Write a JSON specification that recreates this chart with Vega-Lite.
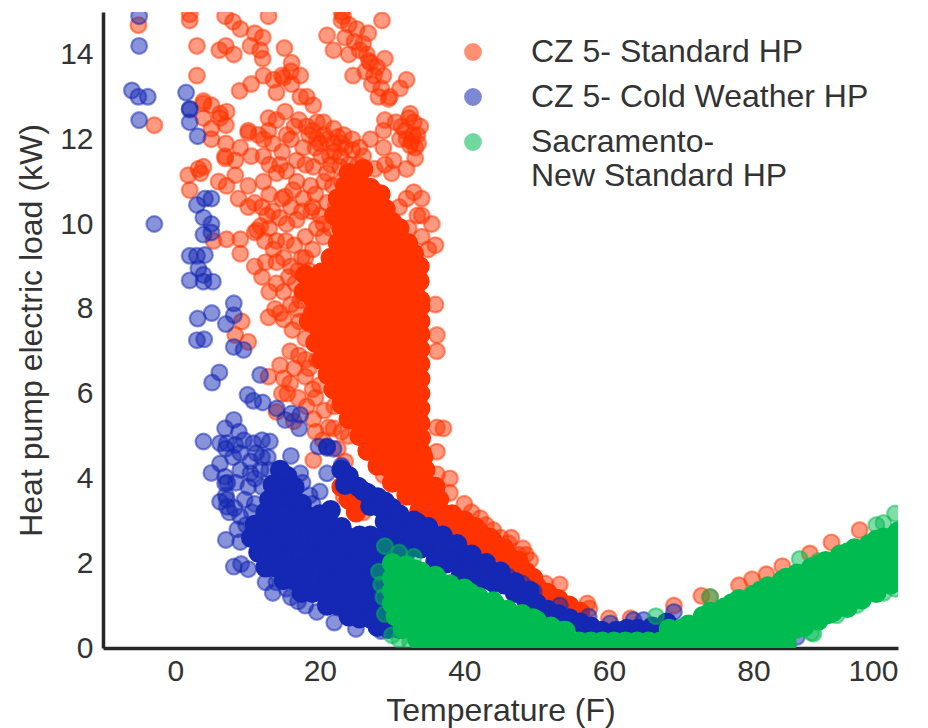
{"$schema":"https://vega.github.io/schema/vega-lite/v6.json","width":795,"height":636,"autosize":"none","padding":{"left":103,"top":12,"right":30,"bottom":80},"background":"white",
"config":{"view":{"stroke":null},"font":"Liberation Sans","axis":{"grid":false,"ticks":false,"domainColor":"#262626","domainWidth":3.5,"labelColor":"#333333","titleColor":"#333333","labelFontSize":30,"titleFontSize":32,"titleFontWeight":"normal","labelFont":"Liberation Sans","titleFont":"Liberation Sans"}},
"datasets":{
"rs":[{"x":-5.1,"y":14.69},{"x":2,"y":14.8},{"x":2,"y":14.95},{"x":6.9,"y":14.9},{"x":8,"y":14.77},{"x":9,"y":14.6},{"x":12.9,"y":14.9},{"x":3,"y":14.2},{"x":6.1,"y":14.1},{"x":7,"y":14.2},{"x":8.1,"y":14},{"x":10.4,"y":14.2},{"x":11,"y":14.5},{"x":12.1,"y":14.4},{"x":11.75,"y":14.1},{"x":12.1,"y":13.9},{"x":15.1,"y":14.15},{"x":3,"y":13.5},{"x":8.9,"y":13.14},{"x":10.5,"y":13.3},{"x":12.2,"y":13.5},{"x":13.6,"y":13.4},{"x":14.75,"y":13.5},{"x":15,"y":13.45},{"x":16.1,"y":13.8},{"x":16,"y":13.6},{"x":17.3,"y":13.5},{"x":14,"y":13.1},{"x":16.1,"y":13.3},{"x":17.3,"y":13},{"x":19.1,"y":12.8},{"x":18.2,"y":13},{"x":-2.9,"y":12.33},{"x":3.9,"y":12.84},{"x":5,"y":12.8},{"x":3.9,"y":12.9},{"x":3.9,"y":12.5},{"x":6.2,"y":12.6},{"x":6.2,"y":12.5},{"x":7.1,"y":12.65},{"x":7,"y":12.33},{"x":5,"y":12.25},{"x":5,"y":12},{"x":7,"y":11.9},{"x":10.1,"y":12.15},{"x":10.1,"y":12.2},{"x":9,"y":11.8},{"x":10.5,"y":11.6},{"x":6.9,"y":11.55},{"x":6.9,"y":11.6},{"x":8.3,"y":11.5},{"x":1.8,"y":11.15},{"x":3.2,"y":11.3},{"x":3.9,"y":11.35},{"x":3.5,"y":11.2},{"x":2,"y":10.8},{"x":6,"y":11},{"x":7.1,"y":10.9},{"x":8.3,"y":11.15},{"x":8.75,"y":10.6},{"x":10.1,"y":10.9},{"x":10.1,"y":10.4},{"x":11,"y":10.5},{"x":12.2,"y":12},{"x":12.9,"y":12.5},{"x":14,"y":12.45},{"x":15.2,"y":12.65},{"x":17.1,"y":12.45},{"x":12.9,"y":12.2},{"x":15.4,"y":12.1},{"x":19.6,"y":12.4},{"x":21.9,"y":12.25},{"x":23.3,"y":12.1},{"x":19.6,"y":12},{"x":21.9,"y":11.9},{"x":20.6,"y":12.1},{"x":18.5,"y":12.1},{"x":17.7,"y":11.8},{"x":12.2,"y":11.6},{"x":14.5,"y":11.4},{"x":14,"y":11.2},{"x":16.8,"y":11.5},{"x":19.1,"y":11.35},{"x":21.4,"y":11.6},{"x":22,"y":11.7},{"x":25.3,"y":11.4},{"x":12.2,"y":11},{"x":14.75,"y":10.6},{"x":15.2,"y":10.65},{"x":16.8,"y":11},{"x":18.7,"y":10.9},{"x":21,"y":11.2},{"x":22.8,"y":11.35},{"x":11.3,"y":9.85},{"x":11.8,"y":9.95},{"x":12.7,"y":10.2},{"x":16.8,"y":10.1},{"x":17.5,"y":10.3},{"x":19.6,"y":9.9},{"x":20,"y":10.2},{"x":18,"y":9.7},{"x":7.1,"y":9.64},{"x":9,"y":9.64},{"x":5.3,"y":9.6},{"x":9,"y":9.3},{"x":11,"y":9.8},{"x":14,"y":9.6},{"x":13,"y":9.9},{"x":15,"y":9.2},{"x":11,"y":9},{"x":12,"y":8.75},{"x":14,"y":9.1},{"x":15.7,"y":8.75},{"x":14,"y":8.6},{"x":17.3,"y":8.2},{"x":16,"y":8.1},{"x":12.9,"y":7.8},{"x":14.5,"y":7.9},{"x":15,"y":7.75},{"x":9.2,"y":7.7},{"x":36,"y":8.1},{"x":21,"y":14.45},{"x":23,"y":14.8},{"x":23,"y":15},{"x":23.2,"y":14.9},{"x":25.1,"y":14.6},{"x":28.6,"y":14.8},{"x":21.9,"y":14.1},{"x":23.5,"y":14.4},{"x":24,"y":14},{"x":26,"y":14.25},{"x":26.5,"y":14},{"x":26.8,"y":13.85},{"x":29,"y":13.9},{"x":26.3,"y":13.6},{"x":27.9,"y":13.7},{"x":27.5,"y":13.5},{"x":28.8,"y":13.5},{"x":32,"y":13.4},{"x":31.1,"y":13.2},{"x":28.1,"y":13},{"x":29.7,"y":13},{"x":29.5,"y":12.95},{"x":29,"y":12.45},{"x":28.8,"y":12.2},{"x":27,"y":12},{"x":28.8,"y":11.8},{"x":32.3,"y":12.5},{"x":33.9,"y":12.3},{"x":33,"y":12.4},{"x":31.3,"y":12.3},{"x":32.9,"y":12.1},{"x":32,"y":12},{"x":31.1,"y":12},{"x":33.2,"y":11.8},{"x":32.5,"y":11.85},{"x":30.2,"y":11.5},{"x":33.2,"y":11.55},{"x":29.95,"y":11.2},{"x":32,"y":11.3},{"x":33,"y":10.75},{"x":34.1,"y":10.6},{"x":34.1,"y":10.2},{"x":32,"y":10.6},{"x":32.3,"y":9.9},{"x":34.1,"y":9.7},{"x":36.2,"y":7.38},{"x":36.2,"y":7},{"x":15.9,"y":7},{"x":17.1,"y":6.9},{"x":12.9,"y":6.4},{"x":14.5,"y":6.67},{"x":15,"y":6.36},{"x":15.9,"y":6.24},{"x":18,"y":6.4},{"x":15.5,"y":6},{"x":14.75,"y":6},{"x":20,"y":6.2},{"x":18.2,"y":5.7},{"x":19.1,"y":5.4},{"x":14,"y":5.57},{"x":19.4,"y":5.1},{"x":21.9,"y":5.18},{"x":19.1,"y":4.43},{"x":37.1,"y":5.18},{"x":36.2,"y":5.2},{"x":36.2,"y":4.63},{"x":36.2,"y":4.1},{"x":38,"y":3.66},{"x":42.2,"y":3.06},{"x":44,"y":2.78},{"x":10.1,"y":7.22},{"x":8.3,"y":7.38},{"x":28.8,"y":4.08},{"x":24.7,"y":3.4},{"x":26,"y":3.2},{"x":23.3,"y":3.57},{"x":46.1,"y":2.47},{"x":48.1,"y":2.35},{"x":49.1,"y":2.07},{"x":51.2,"y":1.52},{"x":53.2,"y":1.5},{"x":57,"y":1.05},{"x":57.3,"y":0.93},{"x":60,"y":0.7},{"x":63,"y":0.7},{"x":69,"y":1},{"x":72.8,"y":1.23},{"x":79.8,"y":1.62},{"x":84,"y":1.93},{"x":87.8,"y":2.23},{"x":90.8,"y":2.49},{"x":94.7,"y":2.78},{"x":78,"y":1.48},{"x":81.8,"y":1.74},{"x":74,"y":1.2},{"x":19.5,"y":7.6},{"x":18,"y":7.3},{"x":36,"y":9.5},{"x":35.5,"y":10},{"x":21,"y":6.5},{"x":22,"y":5.7},{"x":24,"y":5},{"x":11.5,"y":12.1},{"x":13.5,"y":11.9},{"x":14.8,"y":11.7},{"x":16,"y":12},{"x":16.5,"y":12.3},{"x":18.2,"y":12.3},{"x":19,"y":12.2},{"x":20.5,"y":12.4},{"x":21,"y":12},{"x":22.5,"y":12.05},{"x":23.5,"y":11.8},{"x":24.5,"y":11.75},{"x":26,"y":11.6},{"x":19.4,"y":11.8},{"x":20.2,"y":11.6},{"x":22.9,"y":11.6},{"x":24,"y":11.4},{"x":18,"y":11.4},{"x":15.4,"y":11.25},{"x":13,"y":11.4},{"x":16.3,"y":10.8},{"x":17.7,"y":10.6},{"x":19.4,"y":10.7},{"x":20.6,"y":11},{"x":21.8,"y":10.9},{"x":23,"y":11},{"x":13,"y":10.7},{"x":12,"y":10.4},{"x":13.5,"y":10.3},{"x":14.4,"y":10.15},{"x":15.4,"y":10},{"x":16,"y":10.4},{"x":18.8,"y":10.3},{"x":21,"y":10.5},{"x":22.2,"y":10.4},{"x":12.4,"y":9.6},{"x":13.6,"y":9.4},{"x":15.3,"y":9.6},{"x":16.5,"y":9.5},{"x":17.5,"y":9.2},{"x":19,"y":9.4},{"x":20.5,"y":9.7},{"x":21.5,"y":9.9},{"x":12.5,"y":9.1},{"x":16,"y":9},{"x":18.5,"y":8.9},{"x":13,"y":8.4},{"x":15,"y":8.4},{"x":16.6,"y":8.6},{"x":13.8,"y":8},{"x":16.2,"y":7.5},{"x":17.2,"y":7.7},{"x":16.5,"y":6.6},{"x":18,"y":6.8},{"x":19,"y":6.1},{"x":17,"y":5.9},{"x":20.6,"y":5.6},{"x":16.4,"y":5.35},{"x":20.4,"y":4.9},{"x":22.5,"y":4.7},{"x":23.5,"y":4.4},{"x":24.6,"y":13.5},{"x":24.8,"y":14.3},{"x":25.5,"y":14.1},{"x":27,"y":13.8},{"x":27.2,"y":13.3},{"x":28.5,"y":13.2},{"x":26.7,"y":14.5},{"x":24,"y":14.7},{"x":32.5,"y":12.6},{"x":33.5,"y":12.1},{"x":32.7,"y":11.95},{"x":31.8,"y":12.2},{"x":30.5,"y":12.4},{"x":33.6,"y":11.9},{"x":29,"y":11.4},{"x":27.6,"y":11.3},{"x":33.5,"y":10.2},{"x":31,"y":10.4},{"x":35,"y":9.4},{"x":38,"y":4},{"x":40,"y":3.4},{"x":41,"y":3.2},{"x":43,"y":2.9},{"x":45,"y":2.6},{"x":46.5,"y":2.6},{"x":47.5,"y":2.2},{"x":48.5,"y":2.2},{"x":20,"y":11.9},{"x":21.5,"y":11.4},{"x":23,"y":11.9},{"x":24.5,"y":12},{"x":25.5,"y":11.8},{"x":19,"y":10.4},{"x":20.5,"y":10},{"x":18,"y":9.2},{"x":17,"y":8.9},{"x":17.5,"y":8.4},{"x":16.8,"y":8},{"x":18.5,"y":6.6},{"x":19.6,"y":6.8},{"x":19.4,"y":5.9},{"x":21.2,"y":5.2},{"x":23,"y":5.1}],
"rc":[{"x":25.5,"y":11},{"x":27,"y":10.85},{"x":28.4,"y":10.7},{"x":24.5,"y":10.6},{"x":26,"y":10.55},{"x":27.6,"y":10.4},{"x":29.1,"y":10.35},{"x":24,"y":10.25},{"x":25.4,"y":10.2},{"x":26.9,"y":10.1},{"x":28.5,"y":10.05},{"x":30,"y":10.05},{"x":31,"y":9.9},{"x":23,"y":9.9},{"x":24.5,"y":9.85},{"x":26,"y":9.8},{"x":27.6,"y":9.75},{"x":29.1,"y":9.75},{"x":30.6,"y":9.6},{"x":32.2,"y":9.55},{"x":22.5,"y":9.55},{"x":23.9,"y":9.5},{"x":25.3,"y":9.5},{"x":26.9,"y":9.45},{"x":28.4,"y":9.45},{"x":29.9,"y":9.35},{"x":31.4,"y":9.3},{"x":33,"y":9.3},{"x":33.8,"y":9},{"x":21.5,"y":9.2},{"x":23,"y":9.2},{"x":24.6,"y":9.15},{"x":26.1,"y":9.2},{"x":27.6,"y":9.15},{"x":29.2,"y":9.05},{"x":30.7,"y":9},{"x":32.2,"y":9},{"x":33.4,"y":8.95},{"x":20.2,"y":8.85},{"x":21.8,"y":8.9},{"x":23.4,"y":8.85},{"x":24.9,"y":8.85},{"x":26.4,"y":8.85},{"x":27.9,"y":8.8},{"x":29.5,"y":8.75},{"x":31,"y":8.7},{"x":32.5,"y":8.7},{"x":33.8,"y":8.65},{"x":19.3,"y":8.6},{"x":20.8,"y":8.55},{"x":22.4,"y":8.55},{"x":23.9,"y":8.5},{"x":25.4,"y":8.55},{"x":27,"y":8.5},{"x":28.6,"y":8.45},{"x":30.2,"y":8.45},{"x":31.7,"y":8.4},{"x":33.2,"y":8.35},{"x":33.9,"y":8.2},{"x":19,"y":8.25},{"x":20.1,"y":8.2},{"x":21.6,"y":8.2},{"x":23.1,"y":8.2},{"x":24.6,"y":8.2},{"x":26.2,"y":8.2},{"x":27.7,"y":8.15},{"x":29.3,"y":8.15},{"x":30.9,"y":8.1},{"x":32.4,"y":8.05},{"x":33.9,"y":8.05},{"x":19.1,"y":7.9},{"x":20.7,"y":7.85},{"x":22.3,"y":7.85},{"x":23.8,"y":7.85},{"x":25.4,"y":7.85},{"x":27,"y":7.8},{"x":28.5,"y":7.8},{"x":30,"y":7.8},{"x":31.6,"y":7.75},{"x":33.2,"y":7.75},{"x":33.9,"y":7.7},{"x":20,"y":7.5},{"x":21.6,"y":7.5},{"x":23.1,"y":7.5},{"x":24.6,"y":7.5},{"x":26.2,"y":7.5},{"x":27.8,"y":7.45},{"x":29.3,"y":7.45},{"x":30.8,"y":7.45},{"x":32.4,"y":7.4},{"x":33.9,"y":7.4},{"x":19.4,"y":7.2},{"x":20.9,"y":7.15},{"x":22.4,"y":7.15},{"x":24,"y":7.15},{"x":25.5,"y":7.15},{"x":27,"y":7.1},{"x":28.6,"y":7.1},{"x":30.1,"y":7.1},{"x":31.6,"y":7.05},{"x":33.2,"y":7.05},{"x":33.9,"y":7.05},{"x":20.2,"y":6.8},{"x":21.7,"y":6.8},{"x":23.3,"y":6.8},{"x":24.8,"y":6.8},{"x":26.3,"y":6.75},{"x":27.9,"y":6.75},{"x":29.4,"y":6.75},{"x":31,"y":6.7},{"x":32.5,"y":6.7},{"x":33.9,"y":6.7},{"x":21.1,"y":6.45},{"x":22.6,"y":6.45},{"x":24.1,"y":6.45},{"x":25.6,"y":6.4},{"x":27.2,"y":6.4},{"x":28.7,"y":6.4},{"x":30.3,"y":6.4},{"x":31.8,"y":6.35},{"x":33.3,"y":6.35},{"x":33.9,"y":6.35},{"x":21.9,"y":6.1},{"x":23.4,"y":6.1},{"x":24.9,"y":6.05},{"x":26.5,"y":6.05},{"x":28,"y":6.05},{"x":29.6,"y":6.05},{"x":31.1,"y":6},{"x":32.6,"y":6},{"x":33.9,"y":6},{"x":23,"y":5.75},{"x":24.3,"y":5.7},{"x":25.8,"y":5.7},{"x":27.3,"y":5.7},{"x":28.9,"y":5.7},{"x":30.4,"y":5.65},{"x":31.9,"y":5.65},{"x":33.4,"y":5.65},{"x":33.9,"y":5.65},{"x":24,"y":5.4},{"x":25.2,"y":5.35},{"x":26.7,"y":5.35},{"x":28.2,"y":5.35},{"x":29.8,"y":5.3},{"x":31.3,"y":5.3},{"x":32.8,"y":5.3},{"x":33.9,"y":5.3},{"x":25.5,"y":5},{"x":27,"y":5},{"x":28.6,"y":4.95},{"x":30.1,"y":4.95},{"x":31.7,"y":4.95},{"x":33.2,"y":4.95},{"x":34,"y":4.95},{"x":26.6,"y":4.65},{"x":28.1,"y":4.6},{"x":29.6,"y":4.6},{"x":31.2,"y":4.6},{"x":32.7,"y":4.6},{"x":34.1,"y":4.6},{"x":34.3,"y":4.5},{"x":28,"y":4.3},{"x":29.5,"y":4.25},{"x":31,"y":4.25},{"x":32.5,"y":4.25},{"x":34,"y":4.25},{"x":34.6,"y":4.2},{"x":30,"y":3.9},{"x":31.6,"y":3.9},{"x":33.1,"y":3.9},{"x":34.6,"y":3.9},{"x":36,"y":3.8},{"x":32,"y":3.6},{"x":33.5,"y":3.55},{"x":35,"y":3.55},{"x":36.5,"y":3.5},{"x":33.8,"y":3.25},{"x":35.3,"y":3.2},{"x":36.8,"y":3.2},{"x":38.3,"y":3.15},{"x":36,"y":2.9},{"x":37.5,"y":2.9},{"x":39,"y":2.85},{"x":40.5,"y":2.8},{"x":38,"y":2.6},{"x":39.5,"y":2.55},{"x":41,"y":2.5},{"x":42.5,"y":2.45},{"x":40.5,"y":2.25},{"x":42,"y":2.2},{"x":43.5,"y":2.15},{"x":45,"y":2.15},{"x":46.5,"y":2.1},{"x":44,"y":1.9},{"x":45.5,"y":1.85},{"x":47,"y":1.85},{"x":48.5,"y":1.8},{"x":47,"y":1.55},{"x":48.5,"y":1.5},{"x":50,"y":1.45},{"x":51.5,"y":1.3},{"x":53,"y":1.15},{"x":54.5,"y":1},{"x":56,"y":0.85},{"x":23,"y":3.8},{"x":24.5,"y":3.75},{"x":26,"y":3.5},{"x":25,"y":3.2},{"x":24,"y":3.5},{"x":40,"y":3},{"x":41.5,"y":2.85},{"x":42,"y":2.75},{"x":43.5,"y":2.6},{"x":44,"y":2.5},{"x":45.5,"y":2.35},{"x":47.5,"y":2.05},{"x":49.5,"y":1.65},{"x":22,"y":10.2},{"x":22.5,"y":10.6},{"x":23.5,"y":10.9},{"x":24,"y":11.2},{"x":26,"y":11.3},{"x":18,"y":8.8},{"x":17.8,"y":8.4},{"x":18.5,"y":7.7}],
"bs":[{"x":-5,"y":14.9},{"x":-5,"y":14.2},{"x":-6,"y":13.15},{"x":-5.1,"y":13},{"x":-3.8,"y":13},{"x":-5,"y":12.45},{"x":1.5,"y":13.1},{"x":2,"y":12.7},{"x":2,"y":12.72},{"x":2,"y":12.4},{"x":3.1,"y":12.07},{"x":-2.9,"y":10},{"x":4.1,"y":10.6},{"x":5,"y":10.6},{"x":3,"y":10.45},{"x":3.9,"y":10.15},{"x":5,"y":10},{"x":3.9,"y":9.75},{"x":5,"y":9.8},{"x":2,"y":9.25},{"x":3,"y":9.25},{"x":4.1,"y":9.27},{"x":3.2,"y":8.95},{"x":3.9,"y":8.8},{"x":2,"y":8.67},{"x":3.9,"y":8.64},{"x":5.2,"y":8.64},{"x":8.1,"y":8.13},{"x":8.1,"y":7.85},{"x":3.1,"y":7.77},{"x":5.05,"y":7.9},{"x":7,"y":7.64},{"x":3,"y":7.26},{"x":4,"y":7.28},{"x":8.1,"y":7.1},{"x":9.45,"y":7.03},{"x":6.1,"y":6.5},{"x":5.1,"y":6.26},{"x":11.75,"y":6.44},{"x":10,"y":5.97},{"x":10.8,"y":5.83},{"x":12.1,"y":5.79},{"x":14.05,"y":5.65},{"x":15.2,"y":5.38},{"x":16.1,"y":5.53},{"x":17.3,"y":5.5},{"x":17.15,"y":5.18},{"x":8.1,"y":5.38},{"x":6.9,"y":5.18},{"x":8.8,"y":5.1},{"x":3.9,"y":4.87},{"x":6.2,"y":4.83},{"x":7.15,"y":4.83},{"x":8.3,"y":4.79},{"x":10.8,"y":4.83},{"x":12,"y":4.9},{"x":13.1,"y":4.87},{"x":9,"y":4.6},{"x":12,"y":4.5},{"x":16,"y":4.53},{"x":10.4,"y":4.4},{"x":6.2,"y":4.35},{"x":5,"y":4.13},{"x":6.9,"y":4.04},{"x":9,"y":4.2},{"x":10.4,"y":4.12},{"x":17.3,"y":4.12},{"x":6.9,"y":3.88},{"x":10.1,"y":3.8},{"x":20,"y":3.69},{"x":7.15,"y":3.5},{"x":6.2,"y":3.45},{"x":7.15,"y":3.33},{"x":12.2,"y":3.1},{"x":9,"y":3.1},{"x":7,"y":2.55},{"x":9,"y":2.5},{"x":8.1,"y":1.92},{"x":9.1,"y":1.98},{"x":10.1,"y":1.86},{"x":21,"y":4.75},{"x":21,"y":4.75},{"x":21,"y":4.72},{"x":19.8,"y":4.75},{"x":21.9,"y":4.7},{"x":21,"y":4.12},{"x":23,"y":4.3},{"x":23,"y":4.25},{"x":60.2,"y":0.58},{"x":63.4,"y":0.66},{"x":64.8,"y":0.66},{"x":57.2,"y":0.74},{"x":53.2,"y":1},{"x":49.6,"y":1.33},{"x":48,"y":1.52},{"x":46.1,"y":1.68},{"x":69,"y":0.85},{"x":86,"y":0.26},{"x":7.5,"y":3.2},{"x":7,"y":3.6},{"x":12,"y":3.8},{"x":11,"y":4},{"x":11,"y":3.4},{"x":13,"y":4.2},{"x":14,"y":1.55},{"x":12.5,"y":1.55},{"x":16,"y":1.2},{"x":13.5,"y":1.3},{"x":18,"y":1},{"x":19.6,"y":0.85},{"x":25,"y":0.45},{"x":28.5,"y":0.4},{"x":22,"y":0.6},{"x":8,"y":4.5},{"x":7,"y":4.7},{"x":9.5,"y":4.9},{"x":11.2,"y":4.6},{"x":12.8,"y":4.5},{"x":8.4,"y":3.9},{"x":9.6,"y":3.5},{"x":8.2,"y":3.3},{"x":9.8,"y":2.9},{"x":8.6,"y":2.8},{"x":11,"y":2.7},{"x":10.6,"y":3.2},{"x":7.2,"y":3.9},{"x":11.8,"y":4.2},{"x":17.6,"y":3.9},{"x":18.6,"y":3.6},{"x":19,"y":3.4},{"x":15.4,"y":1.4},{"x":17,"y":1.1}],
"bc":[{"x":14.5,"y":4.2},{"x":15.5,"y":4.05},{"x":13.5,"y":3.85},{"x":15,"y":3.8},{"x":16.5,"y":3.8},{"x":13,"y":3.5},{"x":14.5,"y":3.5},{"x":16,"y":3.45},{"x":17.5,"y":3.4},{"x":12.5,"y":3.2},{"x":14,"y":3.2},{"x":15.5,"y":3.15},{"x":17,"y":3.1},{"x":18.5,"y":3.1},{"x":20,"y":3.15},{"x":21.5,"y":3.25},{"x":11,"y":2.9},{"x":12.5,"y":2.9},{"x":14,"y":2.85},{"x":15.5,"y":2.85},{"x":17,"y":2.8},{"x":18.5,"y":2.8},{"x":20,"y":2.85},{"x":21.5,"y":2.9},{"x":23,"y":2.85},{"x":10.5,"y":2.6},{"x":12,"y":2.55},{"x":13.5,"y":2.55},{"x":15,"y":2.5},{"x":16.5,"y":2.5},{"x":18,"y":2.5},{"x":19.5,"y":2.55},{"x":21,"y":2.55},{"x":22.5,"y":2.55},{"x":24,"y":2.6},{"x":25.5,"y":2.65},{"x":27,"y":2.65},{"x":28.5,"y":2.6},{"x":11.5,"y":2.25},{"x":13,"y":2.2},{"x":14.5,"y":2.2},{"x":16,"y":2.2},{"x":17.5,"y":2.2},{"x":19,"y":2.2},{"x":20.5,"y":2.2},{"x":22,"y":2.25},{"x":23.5,"y":2.25},{"x":25,"y":2.3},{"x":26.5,"y":2.3},{"x":28,"y":2.3},{"x":12.5,"y":1.9},{"x":14,"y":1.9},{"x":15.5,"y":1.9},{"x":17,"y":1.9},{"x":18.5,"y":1.9},{"x":20,"y":1.9},{"x":21.5,"y":1.9},{"x":23,"y":1.95},{"x":24.5,"y":1.95},{"x":26,"y":1.95},{"x":27.5,"y":2},{"x":29,"y":2},{"x":15,"y":1.6},{"x":16.5,"y":1.6},{"x":18,"y":1.6},{"x":19.5,"y":1.6},{"x":21,"y":1.6},{"x":22.5,"y":1.6},{"x":24,"y":1.6},{"x":25.5,"y":1.6},{"x":27,"y":1.6},{"x":28.5,"y":1.6},{"x":17.5,"y":1.3},{"x":19,"y":1.3},{"x":20.5,"y":1.3},{"x":22,"y":1.3},{"x":23.5,"y":1.3},{"x":25,"y":1.3},{"x":26.5,"y":1.3},{"x":28,"y":1.3},{"x":29.5,"y":1.3},{"x":21,"y":1},{"x":22.5,"y":1},{"x":24,"y":1},{"x":25.5,"y":1},{"x":27,"y":1},{"x":28.5,"y":1},{"x":30,"y":1},{"x":24,"y":0.75},{"x":25.5,"y":0.7},{"x":27,"y":0.7},{"x":28.5,"y":0.7},{"x":30,"y":0.7},{"x":28,"y":0.5},{"x":29.5,"y":0.45},{"x":31,"y":0.45},{"x":23,"y":4.2},{"x":24,"y":4.05},{"x":23.5,"y":3.85},{"x":25.3,"y":3.8},{"x":26.6,"y":3.65},{"x":28,"y":3.55},{"x":27,"y":3.35},{"x":28.5,"y":3.3},{"x":30,"y":3.3},{"x":29,"y":2.98},{"x":30.5,"y":2.95},{"x":32,"y":2.98},{"x":33.5,"y":2.95},{"x":30,"y":2.65},{"x":31.5,"y":2.65},{"x":33,"y":2.65},{"x":34.5,"y":2.65},{"x":36,"y":2.6},{"x":31,"y":2.35},{"x":32.5,"y":2.35},{"x":34,"y":2.35},{"x":35.5,"y":2.35},{"x":37,"y":2.3},{"x":38.5,"y":2.25},{"x":36,"y":2.05},{"x":37.5,"y":2},{"x":39,"y":2},{"x":40.5,"y":1.95},{"x":42,"y":1.85},{"x":39.5,"y":1.7},{"x":41,"y":1.65},{"x":42.5,"y":1.6},{"x":44,"y":1.55},{"x":45.5,"y":1.5},{"x":47,"y":1.3},{"x":48.5,"y":1.15},{"x":50,"y":1.05},{"x":51.5,"y":0.9},{"x":53,"y":0.8},{"x":54.5,"y":0.7},{"x":56,"y":0.6},{"x":57.5,"y":0.5},{"x":59,"y":0.4},{"x":61,"y":0.4},{"x":62.5,"y":0.45},{"x":64,"y":0.45},{"x":66,"y":0.5},{"x":68,"y":0.6},{"x":38,"y":0.1},{"x":40,"y":0.1},{"x":26,"y":3.7},{"x":29,"y":3.45},{"x":31,"y":3.15},{"x":33,"y":3},{"x":35,"y":2.85},{"x":37,"y":2.65},{"x":39,"y":2.45},{"x":41,"y":2.2},{"x":43,"y":2},{"x":45,"y":1.8},{"x":47,"y":1.55},{"x":49,"y":1.35},{"x":33,"y":2.7},{"x":35,"y":2.5},{"x":37,"y":2.4},{"x":38,"y":2.05},{"x":41,"y":1.8},{"x":43,"y":1.75},{"x":46,"y":1.5},{"x":30,"y":2.3},{"x":29,"y":2.4},{"x":31.5,"y":2.2}],
"gs":[{"x":88.3,"y":0.34},{"x":88,"y":0.36},{"x":99.6,"y":3.17},{"x":99.6,"y":1.4},{"x":98,"y":1.3},{"x":94.3,"y":1.01},{"x":91.5,"y":0.77},{"x":86.4,"y":2.1},{"x":97,"y":2.9},{"x":98,"y":2.95},{"x":29,"y":2.4},{"x":31,"y":2.25},{"x":33,"y":2.15},{"x":29,"y":0.8},{"x":30,"y":0.3},{"x":31,"y":0.2},{"x":32.5,"y":0.15},{"x":66.5,"y":0.75},{"x":74,"y":1.2},{"x":89,"y":2.05},{"x":28.5,"y":1.5},{"x":28.2,"y":1.8},{"x":28.8,"y":1.2}],
"gc":[{"x":33.5,"y":0.2},{"x":35.1,"y":0.15},{"x":36.7,"y":0.15},{"x":38.3,"y":0.15},{"x":39.9,"y":0.15},{"x":41.5,"y":0.15},{"x":43.1,"y":0.15},{"x":44.7,"y":0.15},{"x":46.3,"y":0.15},{"x":47.9,"y":0.15},{"x":49.5,"y":0.15},{"x":51.1,"y":0.15},{"x":52.7,"y":0.15},{"x":54.3,"y":0.15},{"x":55.9,"y":0.15},{"x":57.5,"y":0.15},{"x":59.1,"y":0.15},{"x":60.7,"y":0.15},{"x":62.3,"y":0.15},{"x":63.9,"y":0.15},{"x":65.5,"y":0.15},{"x":67.1,"y":0.15},{"x":68.7,"y":0.15},{"x":70.3,"y":0.15},{"x":71.9,"y":0.15},{"x":73.5,"y":0.15},{"x":75.1,"y":0.15},{"x":76.7,"y":0.15},{"x":78.3,"y":0.15},{"x":79.9,"y":0.15},{"x":81.5,"y":0.15},{"x":83.1,"y":0.15},{"x":84.6,"y":0.1},{"x":31.5,"y":0.45},{"x":33.1,"y":0.45},{"x":34.7,"y":0.45},{"x":36.3,"y":0.45},{"x":37.9,"y":0.45},{"x":39.5,"y":0.45},{"x":41.1,"y":0.45},{"x":42.7,"y":0.45},{"x":44.3,"y":0.45},{"x":45.9,"y":0.45},{"x":47.5,"y":0.45},{"x":49.1,"y":0.45},{"x":50.7,"y":0.45},{"x":52.3,"y":0.45},{"x":53.7,"y":0.4},{"x":68.3,"y":0.45},{"x":69.9,"y":0.45},{"x":71.5,"y":0.45},{"x":73.1,"y":0.45},{"x":74.7,"y":0.45},{"x":76.3,"y":0.45},{"x":77.9,"y":0.45},{"x":79.5,"y":0.45},{"x":81.1,"y":0.45},{"x":82.7,"y":0.45},{"x":84.3,"y":0.45},{"x":85.9,"y":0.45},{"x":30.5,"y":0.75},{"x":32.1,"y":0.75},{"x":33.7,"y":0.75},{"x":35.3,"y":0.75},{"x":36.9,"y":0.75},{"x":38.5,"y":0.75},{"x":40.1,"y":0.75},{"x":41.7,"y":0.75},{"x":43.3,"y":0.75},{"x":44.9,"y":0.75},{"x":46.5,"y":0.75},{"x":48.1,"y":0.75},{"x":49.5,"y":0.7},{"x":73,"y":0.75},{"x":74.6,"y":0.75},{"x":76.2,"y":0.75},{"x":77.8,"y":0.75},{"x":79.4,"y":0.75},{"x":81,"y":0.75},{"x":82.6,"y":0.75},{"x":84.2,"y":0.75},{"x":85.8,"y":0.75},{"x":87.4,"y":0.75},{"x":89,"y":0.75},{"x":90.4,"y":0.8},{"x":30,"y":1.05},{"x":31.6,"y":1.05},{"x":33.2,"y":1.05},{"x":34.8,"y":1.05},{"x":36.4,"y":1.05},{"x":38,"y":1.05},{"x":39.6,"y":1.05},{"x":41.2,"y":1.05},{"x":42.8,"y":1.05},{"x":44.4,"y":1},{"x":77,"y":1.05},{"x":78.6,"y":1.05},{"x":80.2,"y":1.05},{"x":81.8,"y":1.05},{"x":83.4,"y":1.05},{"x":85,"y":1.05},{"x":86.6,"y":1.05},{"x":88.2,"y":1.05},{"x":89.8,"y":1.05},{"x":91.4,"y":1.05},{"x":93,"y":1.1},{"x":94.2,"y":1.15},{"x":30,"y":1.35},{"x":31.6,"y":1.35},{"x":33.2,"y":1.35},{"x":34.8,"y":1.35},{"x":36.4,"y":1.35},{"x":38,"y":1.35},{"x":39.6,"y":1.35},{"x":40.8,"y":1.3},{"x":81,"y":1.35},{"x":82.6,"y":1.35},{"x":84.2,"y":1.35},{"x":85.8,"y":1.35},{"x":87.4,"y":1.35},{"x":89,"y":1.35},{"x":90.6,"y":1.35},{"x":92.2,"y":1.35},{"x":93.8,"y":1.35},{"x":95.4,"y":1.35},{"x":97,"y":1.45},{"x":30,"y":1.65},{"x":31.6,"y":1.65},{"x":33.2,"y":1.65},{"x":34.8,"y":1.65},{"x":36.4,"y":1.6},{"x":84.5,"y":1.65},{"x":86.1,"y":1.65},{"x":87.7,"y":1.65},{"x":89.3,"y":1.65},{"x":90.9,"y":1.65},{"x":92.5,"y":1.65},{"x":94.1,"y":1.65},{"x":95.7,"y":1.65},{"x":97.3,"y":1.65},{"x":98.9,"y":1.7},{"x":100.2,"y":1.75},{"x":30.3,"y":1.9},{"x":31.9,"y":1.85},{"x":33.2,"y":1.85},{"x":89,"y":1.95},{"x":90.6,"y":1.95},{"x":92.2,"y":1.95},{"x":93.8,"y":1.95},{"x":95.4,"y":1.95},{"x":97,"y":1.95},{"x":98.6,"y":1.95},{"x":100.2,"y":1.95},{"x":93,"y":2.25},{"x":94.6,"y":2.25},{"x":96.2,"y":2.25},{"x":97.8,"y":2.25},{"x":99.4,"y":2.25},{"x":97,"y":2.55},{"x":98.6,"y":2.55},{"x":100.2,"y":2.55},{"x":71,"y":0.55},{"x":74,"y":0.85},{"x":76,"y":0.95},{"x":78,"y":1.15},{"x":80,"y":1.25},{"x":82,"y":1.45},{"x":84,"y":1.6},{"x":86,"y":1.75},{"x":88,"y":1.9},{"x":90,"y":2.05},{"x":92,"y":2.2},{"x":94,"y":2.35},{"x":96,"y":2.45},{"x":98,"y":2.6},{"x":100,"y":2.75},{"x":30,"y":2},{"x":32,"y":1.95},{"x":34,"y":1.8},{"x":36,"y":1.7},{"x":38,"y":1.5},{"x":40,"y":1.4},{"x":42,"y":1.2},{"x":44,"y":1.1},{"x":46,"y":0.9},{"x":48,"y":0.8},{"x":50,"y":0.65},{"x":52,"y":0.5},{"x":54,"y":0.4},{"x":87,"y":0.5},{"x":89,"y":0.65},{"x":91,"y":0.85},{"x":93,"y":0.95},{"x":95,"y":1.15},{"x":97,"y":1.3},{"x":99,"y":1.5}]},
"layer":[
{"data":{"name":"rs"},"mark":{"type":"point","filled":false,"clip":true,"size":250,"fillOpacity":0.5,"strokeOpacity":0.5,"strokeWidth":2.2,"fill":"#FF3300"},"encoding":{
"x":{"field":"x","type":"quantitative","scale":{"domain":[-10,100],"nice":false},"axis":{"values":[0,20,40,60,80,100],"title":"Temperature (F)","labelPadding":8,"titleY":47,"labelAngle":0}},
"y":{"field":"y","type":"quantitative","scale":{"domain":[0,15],"nice":false},"axis":{"values":[0,2,4,6,8,10,12,14],"title":"Heat pump electric load (kW)","labelPadding":10,"titleX":-55}},
"color":{"datum":"CZ 5- Standard HP","type":"nominal","scale":{"domain":["CZ 5- Standard HP","CZ 5- Cold Weather HP","Sacramento- New Standard HP"],"range":["#FF3300","#1428B4","#00BB50"]},
"legend":{"title":null,"orient":"none","legendX":354,"legendY":24,"symbolType":"circle","symbolSize":250,"symbolOpacity":0.55,"symbolStrokeWidth":2,"labelFontSize":32,"labelColor":"#333333","labelFont":"Liberation Sans","labelOffset":42,"rowPadding":13,"labelLimit":500,"labelExpr":"indexof(datum.label,'Sacramento')==0?['Sacramento-','New Standard HP']:datum.label","encode":{"symbols":{"update":{"y":{"signal":"indexof(datum.value,'Sacramento')==0?38:18"}}}}}}}},
{"data":{"name":"rc"},"mark":{"type":"point","filled":true,"clip":true,"size":330,"opacity":1,"stroke":"#FF3300","strokeWidth":2.2},"encoding":{"x":{"field":"x","type":"quantitative"},"y":{"field":"y","type":"quantitative"},"color":{"datum":"CZ 5- Standard HP","type":"nominal"}}},
{"data":{"name":"bs"},"mark":{"type":"point","filled":false,"clip":true,"size":250,"fillOpacity":0.5,"strokeOpacity":0.5,"strokeWidth":2.2,"fill":"#1428B4"},"encoding":{"x":{"field":"x","type":"quantitative"},"y":{"field":"y","type":"quantitative"},"color":{"datum":"CZ 5- Cold Weather HP","type":"nominal"}}},
{"data":{"name":"bc"},"mark":{"type":"point","filled":true,"clip":true,"size":330,"opacity":1,"stroke":"#1428B4","strokeWidth":2.2},"encoding":{"x":{"field":"x","type":"quantitative"},"y":{"field":"y","type":"quantitative"},"color":{"datum":"CZ 5- Cold Weather HP","type":"nominal"}}},
{"data":{"name":"gs"},"mark":{"type":"point","filled":false,"clip":true,"size":250,"fillOpacity":0.5,"strokeOpacity":0.5,"strokeWidth":2.2,"fill":"#00BB50"},"encoding":{"x":{"field":"x","type":"quantitative"},"y":{"field":"y","type":"quantitative"},"color":{"datum":"Sacramento- New Standard HP","type":"nominal"}}},
{"data":{"name":"gc"},"mark":{"type":"point","filled":true,"clip":true,"size":330,"opacity":1,"stroke":"#00BB50","strokeWidth":2.2},"encoding":{"x":{"field":"x","type":"quantitative"},"y":{"field":"y","type":"quantitative"},"color":{"datum":"Sacramento- New Standard HP","type":"nominal"}}}
]}
